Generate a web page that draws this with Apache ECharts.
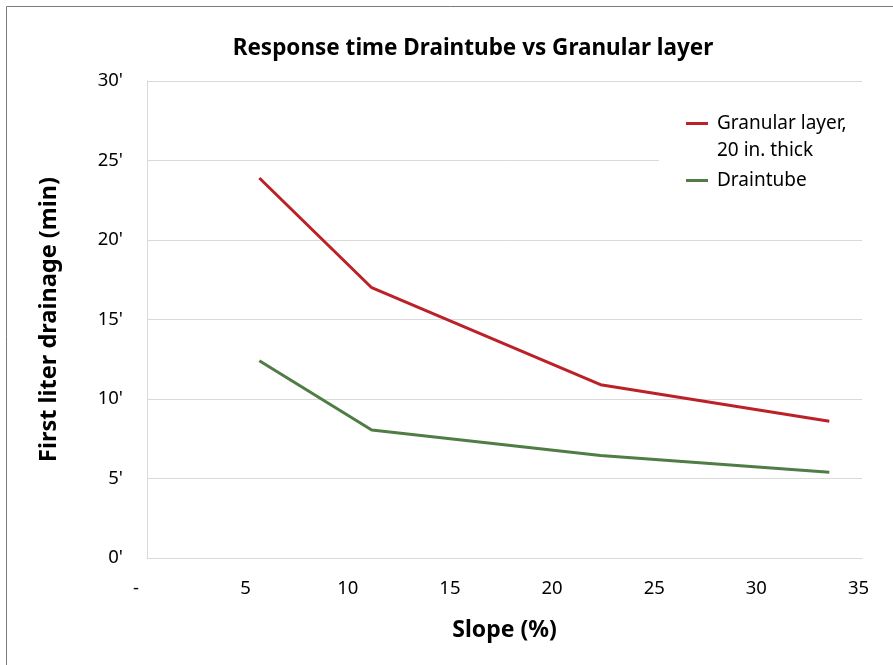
<!DOCTYPE html>
<html>
<head>
<meta charset="utf-8">
<script src="https://cdn.jsdelivr.net/npm/echarts@6/dist/echarts.min.js"></script>
<style>html,body{margin:0;padding:0;background:#fff}#c{width:893px;height:665px}</style>
</head>
<body>
<div id="c"></div>
<script>
const slopes = [5.5, 11.0, 22.2, 33.4];
const granularLayer = [23.9, 17.0, 10.9, 8.6];
const draintube = [12.4, 8.05, 6.45, 5.4];
const seriesNames = ['Granular layer, 20 in. thick', 'Draintube'];
const titleText = 'Response time Draintube vs Granular layer';
const xAxisTitle = 'Slope (%)';
const yAxisTitle = 'First liter drainage (min)';

const FONT = 'Noto Sans';
const chart = echarts.init(document.getElementById('c'));
const pairs = (xs, ys) => xs.map((x, i) => [x, ys[i]]);

chart.setOption({
  animation: false,
  backgroundColor: '#fff',
  textStyle: { fontFamily: FONT, color: '#000' },
  title: {
    text: titleText, left: 468, top: 32, textAlign: 'center',
    textStyle: { fontFamily: FONT, fontWeight: 'bold', fontSize: 22.5, color: '#000' }
  },
  graphic: [{
    type: 'rect', z: 5, shape: { x: 6.5, y: 6.5, width: 900, height: 700 },
    style: { fill: 'none', stroke: '#7a7a7a', lineWidth: 1 }, silent: true
  }, {
    type: 'rect', z: 5, shape: { x: 659, y: 95, width: 220, height: 120 },
    style: { fill: '#fff' }, silent: true
  }],
  grid: { left: 147, right: 31, top: 81, bottom: 107 },
  legend: {
    z: 10,
    orient: 'vertical', left: 686, top: 87, itemWidth: 22, itemHeight: 3, itemGap: 11,
    padding: 0,
    icon: 'rect',
    data: seriesNames,
    formatter: function (n) {
      if (n === seriesNames[0]) return '{e| }\n{a|Granular layer,}\n{a|20 in. thick}';
      return '{a|' + n + '}';
    },
    textStyle: {
      fontFamily: FONT, fontSize: 19, color: '#000',
      rich: {
        e: { fontFamily: FONT, fontSize: 19, lineHeight: 27, color: '#000' },
        a: { fontFamily: FONT, fontSize: 19, lineHeight: 27, color: '#000', padding: [0, 0, 0, 4] }
      }
    }
  },
  xAxis: {
    type: 'value', min: 0, max: 35, interval: 5,
    name: xAxisTitle, nameLocation: 'middle', nameGap: 61,
    nameTextStyle: { fontFamily: FONT, fontWeight: 'bold', fontSize: 23, color: '#000' },
    axisLine: { show: true, onZero: false, lineStyle: { color: '#d9d9d9', width: 1 } },
    axisTick: { show: false },
    splitLine: { show: false },
    axisLabel: {
      margin: 21, fontFamily: FONT, fontSize: 18.5, color: '#000',
      formatter: v => v === 0 ? '{d|-}' : '{n|' + v + '}',
      rich: {
        d: { fontFamily: FONT, fontSize: 18.5, color: '#000', padding: [0, 22, 0, 0] },
        n: { fontFamily: FONT, fontSize: 18.5, color: '#000', padding: [0, 7, 0, 0] }
      }
    }
  },
  yAxis: {
    type: 'value', min: 0, max: 30, interval: 5,
    name: yAxisTitle, nameLocation: 'middle', nameGap: 86, nameRotate: 90,
    nameTextStyle: { fontFamily: FONT, fontWeight: 'bold', fontSize: 23.5, color: '#000' },
    axisLine: { show: true, lineStyle: { color: '#d9d9d9', width: 1 } },
    axisTick: { show: false },
    splitLine: { show: true, lineStyle: { color: '#d9d9d9', width: 1 } },
    axisLabel: { margin: 24, fontFamily: FONT, fontSize: 18.5, color: '#000', formatter: v => v + "'" }
  },
  series: [
    { name: seriesNames[0], type: 'line', data: pairs(slopes, granularLayer), symbol: 'none',
      lineStyle: { color: '#bb2127', width: 3 }, itemStyle: { color: '#bb2127' } },
    { name: seriesNames[1], type: 'line', data: pairs(slopes, draintube), symbol: 'none',
      lineStyle: { color: '#4f7d45', width: 3 }, itemStyle: { color: '#4f7d45' } }
  ]
});
</script>
</body>
</html>
